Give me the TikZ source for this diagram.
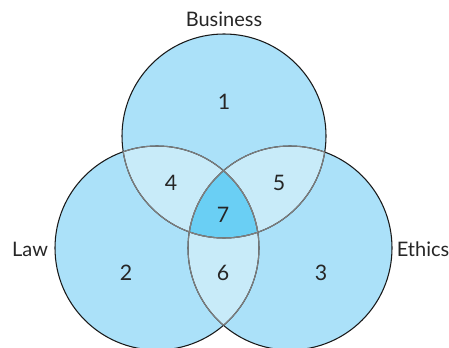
\documentclass[tikz,border=0pt]{standalone}
\usepackage{fontspec}
\setmainfont{Lato}
\usetikzlibrary{positioning}

\definecolor{setblue}{HTML}{ABE1F9}
\definecolor{pairblue}{HTML}{C8EBF9}
\definecolor{coreblue}{HTML}{6ACFF4}

\begin{document}
\begin{tikzpicture}[x=0.75pt, y=0.75pt]
        \tikzset{
            outer line/.style={draw=black!90, line width=0.8pt}, % outline of each set
            inner line/.style={draw=black!50, line width=0.8pt}, % arcs inside the other sets
            set label/.style={font=\fontsize{15}{15}\selectfont, text=black!85}, % set names
            region label/.style={font=\fontsize{16}{16}\selectfont, text=black!85}, % region numbers
            }
        \useasboundingbox (0,0) rectangle (449,347);

        % set centres
        \coordinate (business_c) at (224,211);
        \coordinate (law_c) at (157,99);
        \coordinate (ethics_c) at (290,99);

        % base fill
        \foreach \c in {business_c, law_c, ethics_c}
            \fill[setblue] (\c) circle [radius=102];

        % pairwise overlaps
        \foreach \a/\b in {business_c/law_c, business_c/ethics_c, law_c/ethics_c} {
            \begin{scope}
                \clip (\a) circle [radius=102];
                \fill[pairblue] (\b) circle [radius=102];
            \end{scope}
        }

        % centre overlap
        \begin{scope}
            \clip (business_c) circle [radius=102];
            \clip (law_c) circle [radius=102];
            \fill[coreblue] (ethics_c) circle [radius=102];
        \end{scope}

        % outlines, grey where inside another set
        \foreach \c in {business_c, law_c, ethics_c}
            \draw[outer line] (\c) circle [radius=102];
        \foreach \a/\b in {business_c/law_c, business_c/ethics_c, law_c/business_c, law_c/ethics_c, ethics_c/business_c, ethics_c/law_c} {
            \begin{scope}
                \clip (\b) circle [radius=102];
                \draw[inner line] (\a) circle [radius=102];
            \end{scope}
        }

        % set names
        \node[set label] (business) at (224,328) {Business};
        \node[set label] (law) at (30,98) {Law};
        \node[set label] (ethics) at (423,98) {Ethics};

        % regions
        \node[region label] (only_business) at (224,245) {1};
        \node[region label] (only_law) at (126,74) {2};
        \node[region label] (only_ethics) at (321,74) {3};
        \node[region label] (business_law) at (171,164) {4};
        \node[region label] (business_ethics) at (279,164) {5};
        \node[region label] (law_ethics) at (223,74) {6};
        \node[region label] (all_three) at (223,132) {7};
    \end{tikzpicture}
\end{document}
